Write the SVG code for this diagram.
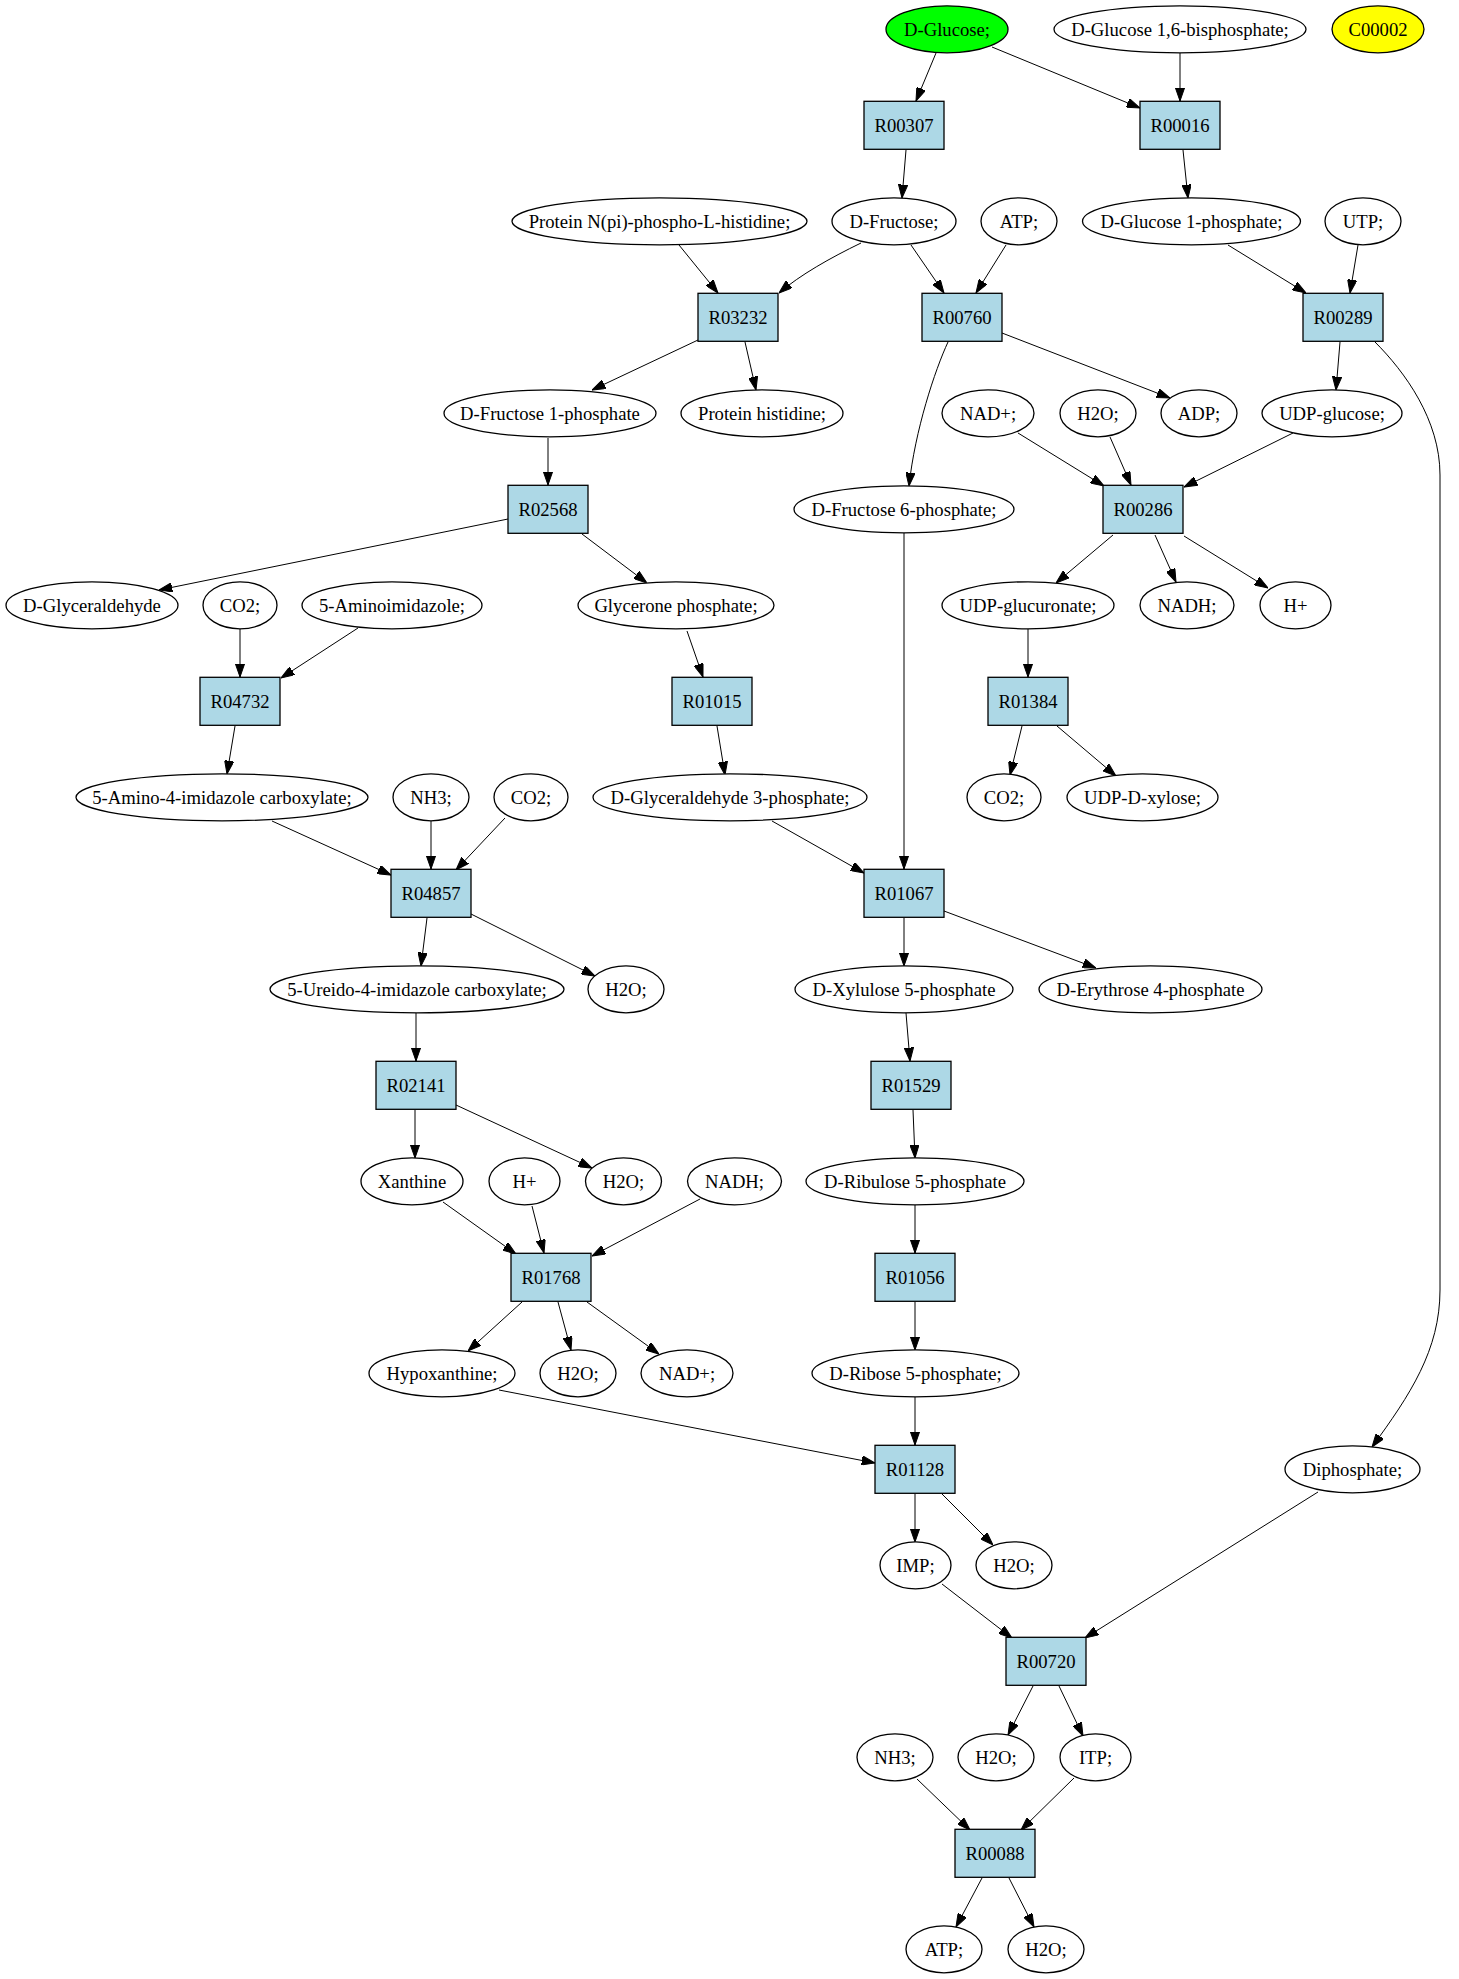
<svg xmlns="http://www.w3.org/2000/svg" width="1459" height="1979" viewBox="0 0 1459 1979">
<style>
.bg{fill:#ffffff}
.e ellipse{fill:#ffffff;stroke:#000000;stroke-width:1.3}
.r rect{fill:#add8e6;stroke:#000000;stroke-width:1.3}
text{font-family:"Liberation Serif","Times New Roman",serif;font-size:18.67px;text-anchor:middle;fill:#000000}
#edges path{fill:none;stroke:#000000;stroke-width:1;marker-end:url(#ah)}
</style>
<defs>
<marker id="ah" viewBox="0 0 13.33 9.33" markerWidth="13.33" markerHeight="9.33" refX="13.33" refY="4.67" orient="auto" markerUnits="userSpaceOnUse">
<path d="M0,0 L13.33,4.67 L0,9.33 z" fill="#000000" stroke="#000000" stroke-width="1"/>
</marker>
</defs>
<rect class="bg" x="0" y="0" width="1459" height="1979"/>
<g id="edges">
<path d="M936,53 L916,101"/>
<path d="M992,47 L1140,108"/>
<path d="M1180,53 L1180,101"/>
<path d="M906,150 L902,198"/>
<path d="M1183,150 L1188,198"/>
<path d="M679,245 L718,293"/>
<path d="M861,243 C830,258 800,275 779,293"/>
<path d="M911,245 L944,293"/>
<path d="M1006,245 L976,293"/>
<path d="M1228,245 L1306,293"/>
<path d="M1358,245 L1350,293"/>
<path d="M698,340 L592,390"/>
<path d="M745,342 L756,390"/>
<path d="M948,342 C935,370 915,430 909,486"/>
<path d="M1002,333 L1170,398"/>
<path d="M1340,342 L1336,390"/>
<path d="M1375,342 C1405,372 1440,420 1440,475 L1440,1290 C1440,1350 1410,1395 1372,1447"/>
<path d="M1018,433 L1104,486"/>
<path d="M1110,437 L1131,485"/>
<path d="M1293,433 L1184,487"/>
<path d="M548,438 L548,485"/>
<path d="M508,519 L159,590"/>
<path d="M582,534 L647,583"/>
<path d="M1113,535 L1056,583"/>
<path d="M1155,535 L1176,582"/>
<path d="M1184,536 L1268,588"/>
<path d="M240,629 L240,677"/>
<path d="M358,628 L281,678"/>
<path d="M687,631 L703,677"/>
<path d="M1028,629 L1028,677"/>
<path d="M235,726 L227,774"/>
<path d="M717,726 L725,775"/>
<path d="M1022,726 L1010,775"/>
<path d="M1057,726 L1116,776"/>
<path d="M272,821 L391,875"/>
<path d="M431,821 L431,869"/>
<path d="M505,818 L456,870"/>
<path d="M772,821 L864,873"/>
<path d="M904,533 L904,869"/>
<path d="M427,918 L421,966"/>
<path d="M471,914 L595,976"/>
<path d="M904,918 L904,966"/>
<path d="M944,911 L1096,968"/>
<path d="M416,1013 L416,1061"/>
<path d="M906,1013 L910,1061"/>
<path d="M415,1110 L415,1158"/>
<path d="M456,1105 L592,1168"/>
<path d="M913,1110 L915,1158"/>
<path d="M443,1202 L516,1254"/>
<path d="M532,1206 L544,1253"/>
<path d="M700,1199 L592,1256"/>
<path d="M915,1205 L915,1253"/>
<path d="M522,1302 L468,1351"/>
<path d="M558,1302 L571,1350"/>
<path d="M587,1302 L659,1354"/>
<path d="M915,1302 L915,1350"/>
<path d="M499,1390 L875,1463"/>
<path d="M915,1397 L915,1445"/>
<path d="M915,1494 L915,1542"/>
<path d="M942,1494 L993,1545"/>
<path d="M942,1584 L1012,1638"/>
<path d="M1318,1492 L1085,1638"/>
<path d="M1033,1686 L1008,1735"/>
<path d="M1059,1686 L1083,1736"/>
<path d="M917,1779 L970,1830"/>
<path d="M1074,1778 L1021,1830"/>
<path d="M982,1878 L956,1927"/>
<path d="M1009,1878 L1034,1927"/>
</g>
<g id="n_D-Glucose" class="e"><ellipse cx="947" cy="29.3" rx="61" ry="23.5" style="fill:#00ff00"/><text x="947" y="35.8">D-Glucose;</text></g>
<g id="n_D-Glucose16bp" class="e"><ellipse cx="1180" cy="29.3" rx="126" ry="23.5"/><text x="1180" y="35.8">D-Glucose 1,6-bisphosphate;</text></g>
<g id="n_C00002" class="e"><ellipse cx="1378" cy="29.3" rx="46" ry="23.5" style="fill:#ffff00"/><text x="1378" y="35.8">C00002</text></g>
<g id="n_R00307" class="r"><rect x="864" y="101.3" width="80" height="48"/><text x="904" y="131.8">R00307</text></g>
<g id="n_R00016" class="r"><rect x="1140" y="101.3" width="80" height="48"/><text x="1180" y="131.8">R00016</text></g>
<g id="n_ProteinNpi" class="e"><ellipse cx="659.5" cy="221.3" rx="147.5" ry="23.5"/><text x="659.5" y="227.8">Protein N(pi)-phospho-L-histidine;</text></g>
<g id="n_D-Fructose" class="e"><ellipse cx="894" cy="221.3" rx="62" ry="23.5"/><text x="894" y="227.8">D-Fructose;</text></g>
<g id="n_ATP_r2" class="e"><ellipse cx="1019" cy="221.3" rx="38" ry="23.5"/><text x="1019" y="227.8">ATP;</text></g>
<g id="n_D-Glucose1P" class="e"><ellipse cx="1191.5" cy="221.3" rx="109" ry="23.5"/><text x="1191.5" y="227.8">D-Glucose 1-phosphate;</text></g>
<g id="n_UTP" class="e"><ellipse cx="1363" cy="221.3" rx="38" ry="23.5"/><text x="1363" y="227.8">UTP;</text></g>
<g id="n_R03232" class="r"><rect x="698" y="293.3" width="80" height="48"/><text x="738" y="323.8">R03232</text></g>
<g id="n_R00760" class="r"><rect x="922" y="293.3" width="80" height="48"/><text x="962" y="323.8">R00760</text></g>
<g id="n_R00289" class="r"><rect x="1303" y="293.3" width="80" height="48"/><text x="1343" y="323.8">R00289</text></g>
<g id="n_D-Fructose1P" class="e"><ellipse cx="550" cy="413.3" rx="106" ry="23.5"/><text x="550" y="419.8">D-Fructose 1-phosphate</text></g>
<g id="n_ProteinHis" class="e"><ellipse cx="762" cy="413.3" rx="81" ry="23.5"/><text x="762" y="419.8">Protein histidine;</text></g>
<g id="n_NADp_r4" class="e"><ellipse cx="988" cy="413.3" rx="46" ry="23.5"/><text x="988" y="419.8">NAD+;</text></g>
<g id="n_H2O_r4" class="e"><ellipse cx="1098" cy="413.3" rx="38" ry="23.5"/><text x="1098" y="419.8">H2O;</text></g>
<g id="n_ADP" class="e"><ellipse cx="1199" cy="413.3" rx="38" ry="23.5"/><text x="1199" y="419.8">ADP;</text></g>
<g id="n_UDP-glucose" class="e"><ellipse cx="1332" cy="413.3" rx="70" ry="23.5"/><text x="1332" y="419.8">UDP-glucose;</text></g>
<g id="n_R02568" class="r"><rect x="508" y="485.3" width="80" height="48"/><text x="548" y="515.8">R02568</text></g>
<g id="n_D-Fructose6P" class="e"><ellipse cx="904" cy="509.3" rx="110" ry="23.5"/><text x="904" y="515.8">D-Fructose 6-phosphate;</text></g>
<g id="n_R00286" class="r"><rect x="1103" y="485.3" width="80" height="48"/><text x="1143" y="515.8">R00286</text></g>
<g id="n_D-Glyceraldehyde" class="e"><ellipse cx="92" cy="605.3" rx="86" ry="23.5"/><text x="92" y="611.8">D-Glyceraldehyde</text></g>
<g id="n_CO2_r6" class="e"><ellipse cx="240" cy="605.3" rx="37" ry="23.5"/><text x="240" y="611.8">CO2;</text></g>
<g id="n_5-Aminoimidazole" class="e"><ellipse cx="392" cy="605.3" rx="90" ry="23.5"/><text x="392" y="611.8">5-Aminoimidazole;</text></g>
<g id="n_GlyceroneP" class="e"><ellipse cx="676" cy="605.3" rx="98" ry="23.5"/><text x="676" y="611.8">Glycerone phosphate;</text></g>
<g id="n_UDP-glucuronate" class="e"><ellipse cx="1028" cy="605.3" rx="86" ry="23.5"/><text x="1028" y="611.8">UDP-glucuronate;</text></g>
<g id="n_NADH_r6" class="e"><ellipse cx="1187" cy="605.3" rx="47" ry="23.5"/><text x="1187" y="611.8">NADH;</text></g>
<g id="n_Hp_r6" class="e"><ellipse cx="1295.5" cy="605.3" rx="35.5" ry="23.5"/><text x="1295.5" y="611.8">H+</text></g>
<g id="n_R04732" class="r"><rect x="200" y="677.3" width="80" height="48"/><text x="240" y="707.8">R04732</text></g>
<g id="n_R01015" class="r"><rect x="672" y="677.3" width="80" height="48"/><text x="712" y="707.8">R01015</text></g>
<g id="n_R01384" class="r"><rect x="988" y="677.3" width="80" height="48"/><text x="1028" y="707.8">R01384</text></g>
<g id="n_5-Amino4imid" class="e"><ellipse cx="222" cy="797.3" rx="146" ry="23.5"/><text x="222" y="803.8">5-Amino-4-imidazole carboxylate;</text></g>
<g id="n_NH3_r8" class="e"><ellipse cx="431" cy="797.3" rx="38" ry="23.5"/><text x="431" y="803.8">NH3;</text></g>
<g id="n_CO2_r8a" class="e"><ellipse cx="531" cy="797.3" rx="37" ry="23.5"/><text x="531" y="803.8">CO2;</text></g>
<g id="n_D-Glyceraldehyde3P" class="e"><ellipse cx="730" cy="797.3" rx="137" ry="23.5"/><text x="730" y="803.8">D-Glyceraldehyde 3-phosphate;</text></g>
<g id="n_CO2_r8b" class="e"><ellipse cx="1004" cy="797.3" rx="37" ry="23.5"/><text x="1004" y="803.8">CO2;</text></g>
<g id="n_UDP-D-xylose" class="e"><ellipse cx="1142.5" cy="797.3" rx="75.5" ry="23.5"/><text x="1142.5" y="803.8">UDP-D-xylose;</text></g>
<g id="n_R04857" class="r"><rect x="391" y="869.3" width="80" height="48"/><text x="431" y="899.8">R04857</text></g>
<g id="n_R01067" class="r"><rect x="864" y="869.3" width="80" height="48"/><text x="904" y="899.8">R01067</text></g>
<g id="n_5-Ureido" class="e"><ellipse cx="417" cy="989.3" rx="147" ry="23.5"/><text x="417" y="995.8">5-Ureido-4-imidazole carboxylate;</text></g>
<g id="n_H2O_r10" class="e"><ellipse cx="626" cy="989.3" rx="38" ry="23.5"/><text x="626" y="995.8">H2O;</text></g>
<g id="n_D-Xylulose5P" class="e"><ellipse cx="904" cy="989.3" rx="109" ry="23.5"/><text x="904" y="995.8">D-Xylulose 5-phosphate</text></g>
<g id="n_D-Erythrose4P" class="e"><ellipse cx="1150.5" cy="989.3" rx="111.5" ry="23.5"/><text x="1150.5" y="995.8">D-Erythrose 4-phosphate</text></g>
<g id="n_R02141" class="r"><rect x="376" y="1061.3" width="80" height="48"/><text x="416" y="1091.8">R02141</text></g>
<g id="n_R01529" class="r"><rect x="871" y="1061.3" width="80" height="48"/><text x="911" y="1091.8">R01529</text></g>
<g id="n_Xanthine" class="e"><ellipse cx="412" cy="1181.3" rx="51" ry="23.5"/><text x="412" y="1187.8">Xanthine</text></g>
<g id="n_Hp_r12" class="e"><ellipse cx="524.5" cy="1181.3" rx="35.5" ry="23.5"/><text x="524.5" y="1187.8">H+</text></g>
<g id="n_H2O_r12" class="e"><ellipse cx="623.5" cy="1181.3" rx="38" ry="23.5"/><text x="623.5" y="1187.8">H2O;</text></g>
<g id="n_NADH_r12" class="e"><ellipse cx="734.5" cy="1181.3" rx="47" ry="23.5"/><text x="734.5" y="1187.8">NADH;</text></g>
<g id="n_D-Ribulose5P" class="e"><ellipse cx="915" cy="1181.3" rx="109" ry="23.5"/><text x="915" y="1187.8">D-Ribulose 5-phosphate</text></g>
<g id="n_R01768" class="r"><rect x="511" y="1253.3" width="80" height="48"/><text x="551" y="1283.8">R01768</text></g>
<g id="n_R01056" class="r"><rect x="875" y="1253.3" width="80" height="48"/><text x="915" y="1283.8">R01056</text></g>
<g id="n_Hypoxanthine" class="e"><ellipse cx="442" cy="1373.3" rx="73" ry="23.5"/><text x="442" y="1379.8">Hypoxanthine;</text></g>
<g id="n_H2O_r14" class="e"><ellipse cx="578" cy="1373.3" rx="38" ry="23.5"/><text x="578" y="1379.8">H2O;</text></g>
<g id="n_NADp_r14" class="e"><ellipse cx="687" cy="1373.3" rx="46" ry="23.5"/><text x="687" y="1379.8">NAD+;</text></g>
<g id="n_D-Ribose5P" class="e"><ellipse cx="915.5" cy="1373.3" rx="103.5" ry="23.5"/><text x="915.5" y="1379.8">D-Ribose 5-phosphate;</text></g>
<g id="n_R01128" class="r"><rect x="875" y="1445.3" width="80" height="48"/><text x="915" y="1475.8">R01128</text></g>
<g id="n_Diphosphate" class="e"><ellipse cx="1352.5" cy="1469.3" rx="67.5" ry="23.5"/><text x="1352.5" y="1475.8">Diphosphate;</text></g>
<g id="n_IMP" class="e"><ellipse cx="915.5" cy="1565.3" rx="35.5" ry="23.5"/><text x="915.5" y="1571.8">IMP;</text></g>
<g id="n_H2O_r16" class="e"><ellipse cx="1014" cy="1565.3" rx="38" ry="23.5"/><text x="1014" y="1571.8">H2O;</text></g>
<g id="n_R00720" class="r"><rect x="1006" y="1637.3" width="80" height="48"/><text x="1046" y="1667.8">R00720</text></g>
<g id="n_NH3_r18" class="e"><ellipse cx="895" cy="1757.3" rx="38" ry="23.5"/><text x="895" y="1763.8">NH3;</text></g>
<g id="n_H2O_r18" class="e"><ellipse cx="996" cy="1757.3" rx="38" ry="23.5"/><text x="996" y="1763.8">H2O;</text></g>
<g id="n_ITP" class="e"><ellipse cx="1095.5" cy="1757.3" rx="35.5" ry="23.5"/><text x="1095.5" y="1763.8">ITP;</text></g>
<g id="n_R00088" class="r"><rect x="955" y="1829.3" width="80" height="48"/><text x="995" y="1859.8">R00088</text></g>
<g id="n_ATP_r20" class="e"><ellipse cx="944" cy="1949.3" rx="38" ry="23.5"/><text x="944" y="1955.8">ATP;</text></g>
<g id="n_H2O_r20" class="e"><ellipse cx="1046" cy="1949.3" rx="38" ry="23.5"/><text x="1046" y="1955.8">H2O;</text></g>
</svg>
